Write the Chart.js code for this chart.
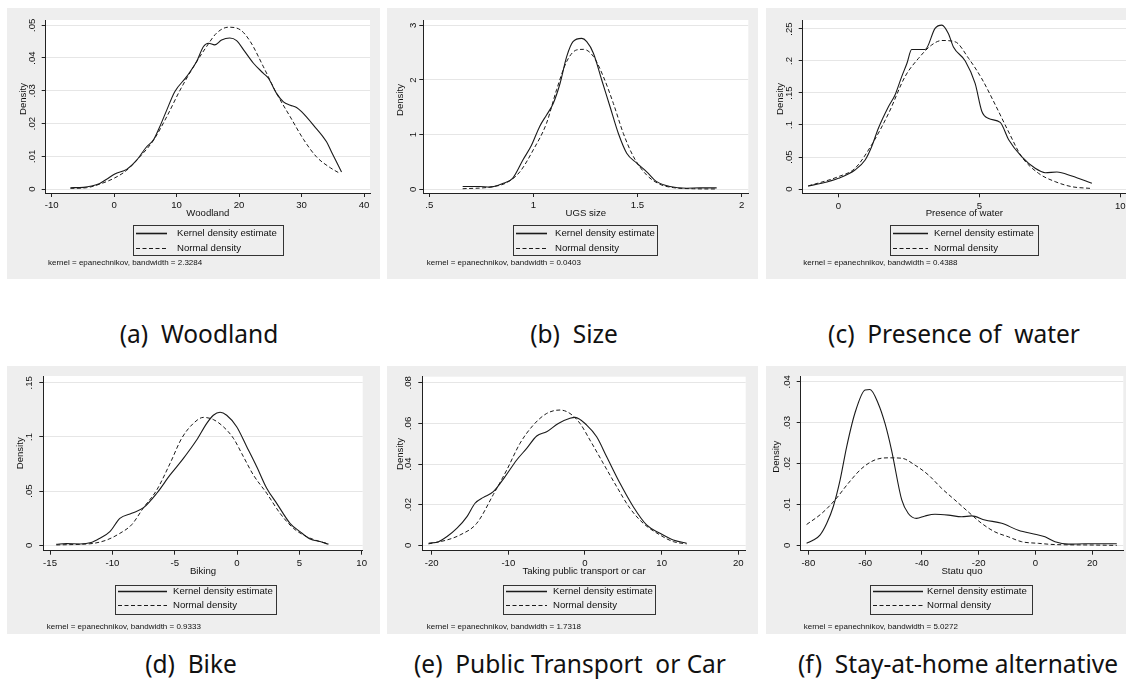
<!DOCTYPE html>
<html>
<head>
<meta charset="utf-8">
<script src="https://cdn.jsdelivr.net/npm/chart.js@4.4.0/dist/chart.umd.min.js"></script>
<style>
html, body { margin: 0; padding: 0; background: #fff; width: 1126px; height: 681px; overflow: hidden; position: relative; }
.panel { position: absolute; background: #eeeeee; overflow: hidden; }
.panel canvas { display: block; }
.cap { position: absolute; font-family: "Noto Sans", sans-serif; font-size: 24.5px; color: #111; white-space: pre; transform: translate(-50%, -50%); }
</style>
</head>
<body>
<script>
// (a) Woodland
const woodlandKdeX = [-7, -4.9, -3.6, -2.3, -1.2, 0.1, 2.0, 3.6, 5.2, 6.3, 7.3, 8.4, 9.7, 11.6, 13.2, 14.3, 15.1, 16.1, 17.2, 18.5, 19.6, 20.9, 22.3, 23.9, 24.7, 26.0, 27.1, 28.2, 29.2, 30.0, 31.9, 34.0, 34.8, 36.4];
const woodlandKdeY = [.0004, .0005, .0009, .0017, .003, .0046, .006, .0088, .0129, .015, .019, .024, .0297, .0343, .0389, .0435, .0445, .044, .0455, .0461, .0453, .042, .0384, .0353, .0338, .0292, .0266, .0256, .0249, .0236, .0195, .0144, .0113, .0052];
const woodlandNormX = [-7, -4.4, -2.3, 0.1, 2.0, 4.1, 6.3, 8.4, 10.5, 12.7, 14.8, 16.4, 18.3, 20.2, 21.8, 23.9, 26.0, 28.2, 30.3, 32.4, 34.6, 36.2];
const woodlandNormY = [.0002, .0004, .0015, .0034, .0057, .0098, .0149, .022, .030, .0373, .0435, .0476, .0494, .0486, .045, .0373, .0292, .022, .0152, .0098, .0065, .0047];
const woodlandTicksX = [-10, 0, 10, 20, 30, 40];
const woodlandTicksY = [0, .01, .02, .03, .04, .05];

// (b) Size
const sizeKdeX = [0.66, 0.74, 0.79, 0.855, 0.90, 0.95, 0.99, 1.03, 1.063, 1.095, 1.128, 1.16, 1.19, 1.232, 1.256, 1.288, 1.328, 1.368, 1.408, 1.448, 1.496, 1.544, 1.592, 1.656, 1.736, 1.80, 1.88];
const sizeKdeY = [.05, .05, .04, .11, .2, .54, .8, 1.15, 1.36, 1.57, 1.94, 2.43, 2.70, 2.76, 2.70, 2.49, 2.0, 1.51, 1.02, .66, .48, .32, .14, .05, .02, .025, .025];
const sizeNormX = [0.66, 0.79, 0.871, 0.935, 0.999, 1.063, 1.111, 1.16, 1.208, 1.24, 1.288, 1.336, 1.384, 1.432, 1.48, 1.544, 1.608, 1.672, 1.768, 1.88];
const sizeNormY = [.01, .04, .12, .32, .72, 1.21, 1.82, 2.34, 2.55, 2.56, 2.43, 2.06, 1.57, 1.02, .6, .26, .09, .03, .01, .005];
const sizeTicksX = [.5, 1, 1.5, 2];
const sizeTicksY = [0, 1, 2, 3];

// (c) Presence of water
const waterKdeX = [-1.07, -0.59, 0, 0.59, 0.95, 1.18, 1.42, 1.78, 2.01, 2.25, 2.43, 2.6, 3.08, 3.43, 3.67, 3.9, 4.08, 4.5, 4.85, 5.09, 5.33, 5.74, 6.04, 6.5, 6.98, 7.34, 7.75, 8.28, 8.99];
const waterKdeY = [.0047, .0089, .0167, .0297, .0453, .066, .095, .129, .147, .176, .196, .218, .218, .251, .256, .243, .222, .2, .165, .121, .110, .104, .077, .0505, .0323, .0255, .0266, .0203, .0089];
const waterNormX = [-1.07, 0, 0.59, 1.18, 1.78, 2.37, 2.84, 3.31, 3.67, 4.14, 4.62, 5.09, 5.56, 6.04, 6.5, 7.1, 7.69, 8.28, 8.93];
const waterNormY = [.0047, .0193, .0323, .069, .118, .176, .204, .225, .232, .230, .204, .172, .132, .089, .0505, .0245, .0115, .0036, .001];
const waterTicksX = [0, 5, 10];
const waterTicksY = [0, .05, .1, .15, .2, .25];

// (d) Bike
const bikeKdeX = [-14.5, -13.7, -12.6, -11.7, -11, -10.2, -9.4, -8.45, -7.5, -6.44, -5.37, -4.3, -3.24, -2.43, -1.9, -1.36, -0.83, -0.03, 0.78, 1.58, 2.38, 3.18, 4.25, 5.05, 5.86, 6.66, 7.33];
const bikeKdeY = [.0009, .0015, .0012, .0025, .0065, .0126, .0249, .0295, .0347, .048, .0649, .0802, .0971, .1125, .120, .1227, .120, .1094, .091, .0725, .0526, .0387, .0203, .0126, .0058, .0034, .0009];
const bikeNormX = [-14.5, -12.6, -11.5, -10.45, -9.4, -8.45, -7.5, -6.44, -5.37, -4.44, -3.5, -2.7, -1.9, -1.1, -0.29, 0.51, 1.31, 2.38, 3.45, 4.52, 5.59, 6.66, 7.33];
const bikeNormY = [.0003, .0009, .0018, .0049, .011, .019, .0347, .051, .0756, .0987, .1125, .118, .116, .1094, .0987, .0818, .0649, .048, .0295, .0157, .008, .0034, .0015];
const bikeTicksX = [-15, -10, -5, 0, 5, 10];
const bikeTicksY = [0, .05, .1, .15];

// (e) Public transport or car
const transKdeX = [-20.4, -19.1, -18.0, -16.7, -15.4, -14.35, -13.26, -11.96, -10.43, -8.91, -7.61, -6.3, -5.0, -3.48, -1.96, -1.3, 0.22, 1.52, 2.83, 4.57, 6.3, 8.04, 9.78, 11.52, 13.26];
const transKdeY = [.001, .0018, .0043, .0084, .0141, .0207, .0236, .0264, .0338, .042, .0477, .0538, .0559, .060, .0625, .063, .0592, .0534, .0436, .0305, .019, .010, .0059, .0026, .001];
const transNormX = [-20.43, -18.04, -16.3, -14.13, -11.96, -10.22, -8.48, -6.74, -5.0, -3.26, -1.96, -0.65, 0.65, 2.39, 4.13, 5.87, 7.61, 9.78, 11.52, 13.26];
const transNormY = [.0007, .0026, .0051, .0108, .025, .037, .0502, .0592, .0649, .0666, .0649, .060, .0518, .0403, .0289, .0182, .0108, .0051, .0018, .0007];
const transTicksX = [-20, -10, 0, 10, 20];
const transTicksY = [0, .02, .04, .06, .08];

// (f) Stay-at-home alternative
const statuKdeX = [-80.6, -78.2, -75.9, -73.5, -71.2, -68.8, -66.5, -63.6, -60.0, -58.3, -55.4, -53.0, -50.7, -47.1, -44.8, -41.9, -38.9, -35.4, -30.7, -26.0, -22.5, -17.8, -11.9, -6.06, -0.19, 3.33, 6.85, 11.55, 17.4, 23.3, 28.6];
const statuKdeY = [.0005, .0013, .0025, .0054, .0095, .016, .0241, .0323, .038, .0381, .0347, .0298, .0233, .0111, .0078, .0066, .0072, .0076, .0074, .007, .0072, .0062, .0054, .0037, .0027, .0021, .0009, .0003, .0004, .0004, .0004];
const statuNormX = [-80.6, -75.3, -70.6, -65.9, -61.2, -56.5, -51.8, -47.1, -42.4, -37.7, -33.0, -28.4, -23.7, -19.0, -14.3, -9.6, -4.9, 1.0, 6.85, 18.6, 28.6];
const statuNormY = [.0051, .0078, .0111, .0152, .0188, .0209, .0214, .0213, .0196, .0172, .0139, .0111, .0082, .0054, .0033, .0021, .0009, .0005, .0002, .0001, 0];
const statuTicksX = [-80, -60, -40, -20, 0, 20];
const statuTicksY = [0, .01, .02, .03, .04];

const seriesLabels = ['Kernel density estimate', 'Normal density'];

const panels = [
	{ left: 7, top: 8, w: 373, h: 271, area: [38.7, 12, 363, 185], xr: [-10.96, 40.96], yr: [-0.00122, .0516],
	  kx: woodlandKdeX, ky: woodlandKdeY, nx: woodlandNormX, ny: woodlandNormY, tx: woodlandTicksX, ty: woodlandTicksY,
	  title: 'Woodland', bw: '2.3284', box: [126, 276], lineEnd: 160, textX: 170, noteX: 41, dens: [16.3, 91],
	  cap: '(a)  Woodland', capPos: [199, 333] },
	{ left: 387, top: 8, w: 371, h: 271, area: [36.3, 12, 361.3, 185], xr: [.471, 2.032], yr: [-.068, 3.097],
	  kx: sizeKdeX, ky: sizeKdeY, nx: sizeNormX, ny: sizeNormY, tx: sizeTicksX, ty: sizeTicksY,
	  title: 'UGS size', bw: '0.0403', box: [126, 270], lineEnd: 160, textX: 168, noteX: 39.7, dens: [13.7, 92],
	  cap: '(b)  Size', capPos: [574, 333] },
	{ left: 766, top: 8, w: 373, h: 271, area: [36.7, 12, 360, 185.3], xr: [-1.264, 10.2], yr: [-.0067, .264],
	  kx: waterKdeX, ky: waterKdeY, nx: waterNormX, ny: waterNormY, tx: waterTicksX, ty: waterTicksY,
	  title: 'Presence of water', bw: '0.4388', box: [124, 272], lineEnd: 162, textX: 168, noteX: 37.3, dens: [14, 91],
	  cap: '(c)  Presence of  water', capPos: [954, 333] },
	{ left: 7, top: 366, w: 373, h: 268, area: [36.3, 10, 355.7, 184.7], xr: [-15.54, 10.08], yr: [-.005, .1562],
	  kx: bikeKdeX, ky: bikeKdeY, nx: bikeNormX, ny: bikeNormY, tx: bikeTicksX, ty: bikeTicksY,
	  title: 'Biking', bw: '0.9333', box: [108, 269], lineEnd: 160, textX: 166, noteX: 39.7, dens: [13, 87.3],
	  cap: '(d)  Bike', capPos: [191, 663] },
	{ left: 387, top: 366, w: 371, h: 268, area: [35.3, 10.7, 358.7, 184.7], xr: [-21.23, 20.97], yr: [-.00266, .083],
	  kx: transKdeX, ky: transKdeY, nx: transNormX, ny: transNormY, tx: transTicksX, ty: transTicksY,
	  title: 'Taking public transport or car', bw: '1.7318', box: [116, 268], lineEnd: 160, textX: 166, noteX: 39.7, dens: [13, 88],
	  cap: '(e)  Public Transport  or Car', capPos: [570, 663] },
	{ left: 766, top: 366, w: 373, h: 268, area: [34.7, 10, 357.3, 184.7], xr: [-82.68, 30.9], yr: [-.0013, .0414],
	  kx: statuKdeX, ky: statuKdeY, nx: statuNormX, ny: statuNormY, tx: statuTicksX, ty: statuTicksY,
	  title: 'Statu quo', bw: '5.0272', box: [104, 266], lineEnd: 157, textX: 161, noteX: 37.7, dens: [10.7, 90.7],
	  cap: '(f)  Stay-at-home alternative', capPos: [958, 663] }
];

const FONT = '"Liberation Sans", Arial, sans-serif';
const INK = '#111';

// stata style tick labels: .05 instead of 0.05
const stataNum = (v) => v === 0 ? '0' : String(v).replace(/^(-?)0\./, '$1.');

const toPoints = (xs, ys) => xs.map((x, i) => ({ x: x, y: ys[i] }));

const plotRegion = {
	id: 'plotRegion',
	beforeDraw(chart) {
		const a = chart.chartArea;
		chart.ctx.save();
		chart.ctx.fillStyle = '#ffffff';
		chart.ctx.fillRect(a.left, a.top, a.right - a.left, a.bottom - a.top);
		chart.ctx.restore();
	}
};

const stataLegend = {
	id: 'stataLegend',
	afterDraw(chart, args, o) {
		const ctx = chart.ctx;
		ctx.save();
		ctx.fillStyle = INK;
		ctx.textBaseline = 'middle';

		// y title
		ctx.font = '9.6px ' + FONT;
		ctx.save();
		ctx.translate(o.dens[0], o.dens[1]);
		ctx.rotate(-Math.PI / 2);
		ctx.textAlign = 'center';
		ctx.fillText('Density', 0, 0);
		ctx.restore();

		// legend box
		ctx.strokeStyle = '#333';
		ctx.lineWidth = 1;
		ctx.strokeRect(Math.round(o.box[0]) + .5, o.boxTop + .5, Math.round(o.box[1] - o.box[0]), o.boxBottom - o.boxTop);
		ctx.textAlign = 'left';
		chart.data.datasets.forEach((ds, i) => {
			const y = Math.round(o.rows[i]) + .5;
			ctx.beginPath();
			ctx.setLineDash(ds.borderDash || []);
			ctx.strokeStyle = ds.borderColor;
			ctx.lineWidth = i === 0 ? 1.6 : 1;
			ctx.moveTo(o.box[0] + 3, y);
			ctx.lineTo(o.lineEnd, y);
			ctx.stroke();
			ctx.setLineDash([]);
			ctx.fillText(ds.label, o.textX, y);
		});

		ctx.font = '8px ' + FONT;
		ctx.fillText('kernel = epanechnikov, bandwidth = ' + o.bw, o.noteX, o.noteY);
		ctx.restore();
	}
};

panels.forEach((p, idx) => {
	const div = document.createElement('div');
	div.className = 'panel';
	div.style.left = p.left + 'px';
	div.style.top = p.top + 'px';
	div.style.width = p.w + 'px';
	div.style.height = p.h + 'px';
	const canvas = document.createElement('canvas');
	canvas.width = p.w;
	canvas.height = p.h;
	canvas.style.width = p.w + 'px';
	canvas.style.height = p.h + 'px';
	div.appendChild(canvas);
	document.body.appendChild(div);

	const cap = document.createElement('div');
	cap.className = 'cap';
	cap.textContent = p.cap;
	cap.style.left = p.capPos[0] + 'px';
	cap.style.top = p.capPos[1] + 'px';
	document.body.appendChild(cap);

	const topRow = idx < 3;
	const xAxisH = 26;

	new Chart(canvas, {
		type: 'line',
		data: {
			datasets: [
				{ label: seriesLabels[0], data: toPoints(p.kx, p.ky), borderColor: '#1a1a1a', borderWidth: 1.1,
				  pointRadius: 0, cubicInterpolationMode: 'monotone', fill: false },
				{ label: seriesLabels[1], data: toPoints(p.nx, p.ny), borderColor: '#1a1a1a', borderWidth: 1,
				  borderDash: [4, 2.5], pointRadius: 0, cubicInterpolationMode: 'monotone', fill: false }
			]
		},
		options: {
			responsive: false,
			animation: false,
			devicePixelRatio: 1,
			layout: {
				padding: { left: 0, top: p.area[1], right: p.w - p.area[2], bottom: p.h - p.area[3] - xAxisH }
			},
			plugins: {
				legend: { display: false },
				tooltip: { enabled: false },
				stataLegend: {
					box: p.box, lineEnd: p.lineEnd, textX: p.textX, noteX: p.noteX, bw: p.bw, dens: p.dens,
					boxTop: topRow ? 217 : 219, boxBottom: topRow ? 247 : 248,
					rows: topRow ? [225, 240] : [224.5, 238.5],
					noteY: topRow ? 255 : 260.7
				}
			},
			scales: {
				x: {
					type: 'linear',
					min: p.xr[0],
					max: p.xr[1],
					afterBuildTicks: (s) => { s.ticks = p.tx.map(v => ({ value: v })); },
					afterFit: (s) => { s.height = xAxisH; },
					border: { display: true, color: '#222', width: 1 },
					grid: { drawOnChartArea: false, drawTicks: true, tickLength: 4, tickColor: '#222' },
					ticks: { color: INK, font: { family: FONT, size: 9.6 }, padding: 3, maxRotation: 0, autoSkip: false,
					         callback: (v) => stataNum(v) },
					title: { display: true, text: p.title, color: INK, font: { family: FONT, size: 9.6 }, padding: 0 }
				},
				y: {
					type: 'linear',
					min: p.yr[0],
					max: p.yr[1],
					afterBuildTicks: (s) => { s.ticks = p.ty.map(v => ({ value: v })); },
					afterFit: (s) => { s.width = p.area[0]; },
					border: { display: true, color: '#222', width: 1 },
					grid: { color: '#e6e6e6', lineWidth: 1, drawTicks: true, tickLength: 4, tickColor: '#222' },
					ticks: { color: INK, font: { family: FONT, size: 9.6 }, padding: 3, minRotation: 90, maxRotation: 90,
					         crossAlign: 'center', autoSkip: false, callback: (v) => stataNum(v) }
				}
			}
		},
		plugins: [plotRegion, stataLegend]
	});
});
</script>
</body>
</html>
